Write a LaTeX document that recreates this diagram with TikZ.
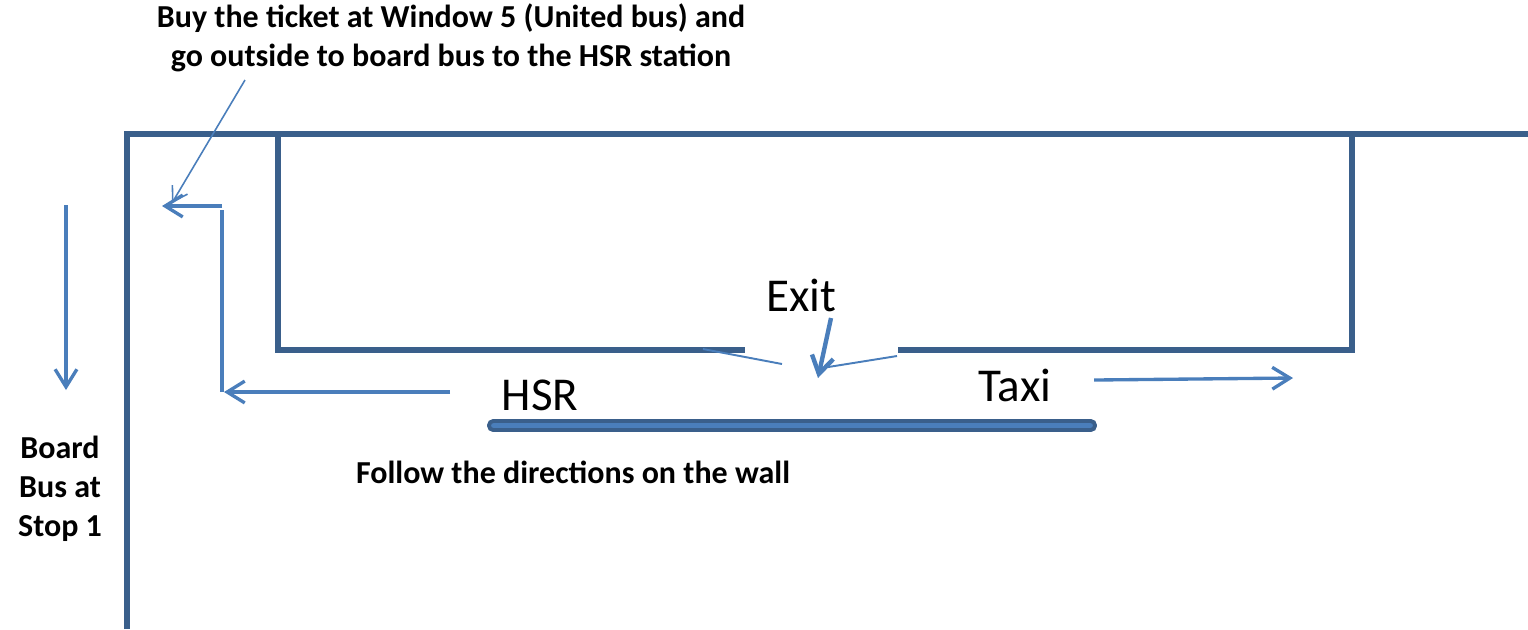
\documentclass[tikz,border=0pt]{standalone}
\usepackage{fontspec}
\setmainfont{Carlito}
\usetikzlibrary{arrows.meta}
\definecolor{wall}{HTML}{3A5F8B}
\definecolor{arr}{HTML}{4A7EBB}
\tikzset{
  wallline/.style={draw=wall, line width=1.5pt, line join=miter},
  dirarrow/.style={draw=arr, line width=0.95pt, -{Straight Barb[length=5pt,width=6.2pt,line width=0.95pt]}},
  exitarrow/.style={draw=arr, line width=1.25pt, -{Straight Barb[length=5pt,width=6.2pt,line width=1.25pt]}},
  thinarrow/.style={draw=arr, line width=0.45pt, -{Straight Barb[length=4pt,width=5pt,line width=0.45pt]}},
  thinline/.style={draw=arr, line width=0.55pt},
  boldtxt/.style={font=\fontsize{9.1}{11.1}\selectfont\bfseries, align=center, inner sep=0pt},
  bigtxt/.style={font=\fontsize{13.4}{16}\selectfont, inner sep=0pt, anchor=base}
}
\begin{document}
\begin{tikzpicture}[x=0.01cm,y=-0.01cm]
\useasboundingbox (0,0) rectangle (1528,629);
% walls
\draw[wallline] (127,629) -- (127,134) -- (1528,134);
\draw[wallline] (278,134) -- (278,350) -- (745,350);
\draw[wallline] (898,350) -- (1352,350) -- (1352,134);
% platform bar
\draw[draw=wall, fill=arr, line width=1.1pt, rounded corners=1.2pt] (489,421) rectangle (1095,430);
% texts
\node[boldtxt] (buy) at (451,38) {Buy the ticket at Window 5 (United bus) and\\go outside to board bus to the HSR station};
\node[boldtxt] (board) at (60,489) {Board\\Bus at\\Stop 1};
\node[boldtxt] (follow) at (573,472) {Follow the directions on the wall};
\node[bigtxt] (hsr) at (540,410) {HSR};
\node[bigtxt] (exit) at (801,311) {Exit};
\node[bigtxt] (taxi) at (1015,401) {Taxi};
% coordinates
\coordinate (downS) at (66,205);
\coordinate (downE) at (66,390);
\coordinate (hsrS) at (450,392);
\coordinate (hsrE) at (224,392);
\coordinate (upS) at (222,210);
\coordinate (upB) at (222,392);
\coordinate (leftS) at (222,206);
\coordinate (leftE) at (162,206);
\coordinate (buyS) at (245,80);
\coordinate (buyE) at (172,203);
\coordinate (exitS) at (831,318);
\coordinate (exitE) at (818,378);
\coordinate (flapL1) at (703,349);
\coordinate (flapL2) at (782,364);
\coordinate (flapR1) at (897,356);
\coordinate (flapR2) at (822,368);
\coordinate (taxiS) at (1094,380);
\coordinate (taxiE) at (1293,378);
% arrows
\draw[dirarrow] (downS) -- (downE);
\draw[dirarrow] (hsrS) -- (hsrE);
\draw[draw=arr, line width=0.95pt] (upB) -- (upS);
\draw[dirarrow] (leftS) -- (leftE);
\draw[thinarrow] (buyS) -- (buyE);
\draw[exitarrow] (exitS) -- (exitE);
\draw[thinline] (flapL1) -- (flapL2);
\draw[thinline] (flapR1) -- (flapR2);
\draw[dirarrow] (taxiS) -- (taxiE);
\end{tikzpicture}
\end{document}
